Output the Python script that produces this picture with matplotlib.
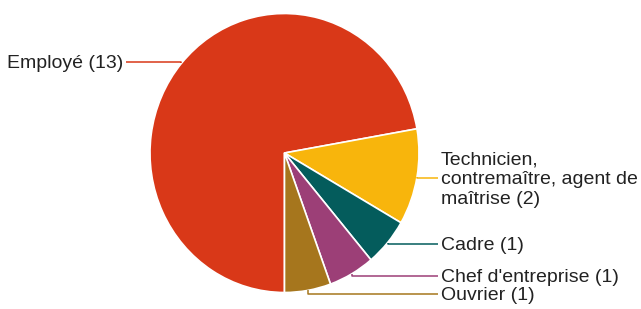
import numpy as np
import matplotlib
matplotlib.use("Agg")
import matplotlib.pyplot as plt

categories = ["Employé", "Technicien,\ncontremaître, agent de\nmaîtrise", "Cadre",
              "Chef d'entreprise", "Ouvrier"]
values = [13, 2, 1, 1, 1]
colors = ["#D93818", "#F8B50C", "#045C5C", "#9C3F77", "#A6761D"]

W, H = 641, 309
fig = plt.figure(figsize=(W / 100, H / 100), dpi=100)

# pie geometry in pixels (from top-left)
cx, cy_top, rx, ry = 284.5, 153, 134.5, 139.5
cy = H - cy_top

pie_ax = fig.add_axes([(cx - rx) / W, (cy - ry) / H, 2 * rx / W, 2 * ry / H])
wedges, _ = pie_ax.pie(values, colors=colors, startangle=270, counterclock=False,
                       radius=1, frame=True,
                       wedgeprops=dict(edgecolor="white", linewidth=1.2))
pie_ax.set_xlim(-1, 1)
pie_ax.set_ylim(-1, 1)
pie_ax.set_aspect("auto")
pie_ax.axis("off")

ax = fig.add_axes([0, 0, 1, 1], zorder=3)
ax.set_xlim(0, W)
ax.set_ylim(0, H)
ax.axis("off")
ax.patch.set_alpha(0)

# label layout (pixel rows from top), side
label_rows = [62, 178, 244, 276, 294]
sides = ["left", "right", "right", "right", "right"]
left_text_x, left_line_end = 123, 126
right_text_x, right_line_end = 441, 438
fs = 14.0

for w, cat, val, row, side, col in zip(wedges, categories, values, label_rows, sides, colors):
    mid = np.deg2rad((w.theta1 + w.theta2) / 2)
    px = cx + rx * np.cos(mid)
    py = cy + ry * np.sin(mid)
    ly = H - row
    end = left_line_end if side == "left" else right_line_end
    ax.plot([px, px, end], [py, ly, ly], color=col, lw=1.1, solid_capstyle="butt")
    if side == "left":
        ax.text(left_text_x, ly - 1, f"{cat} ({val})", ha="right", va="center",
                fontsize=fs, color="#222222", family="Liberation Sans")
    else:
        ax.text(right_text_x, ly - 1.5, f"{cat} ({val})", ha="left", va="center",
                fontsize=fs, color="#222222", family="Liberation Sans",
                linespacing=1.2)

fig.savefig("out.png", dpi=100, facecolor="white")
